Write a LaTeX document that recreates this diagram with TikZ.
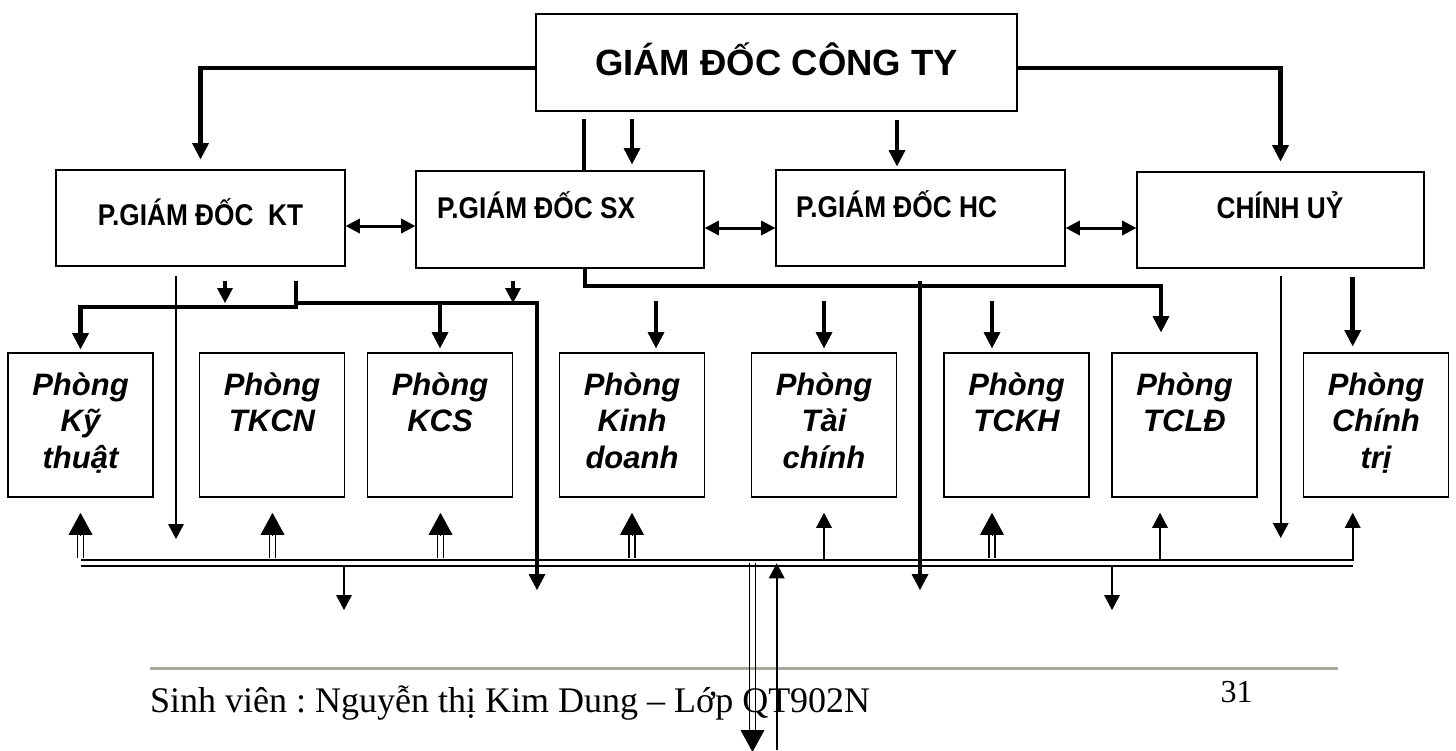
\documentclass[tikz,border=0pt]{standalone}
\usepackage{fontspec}
\setmainfont{Liberation Sans}
\newfontfamily\serifft{Liberation Serif}
\newfontfamily\narrowft{Liberation Sans}[FakeStretch=0.875]
\usetikzlibrary{arrows.meta,calc}
\definecolor{rulegray}{RGB}{168,168,160}
\frenchspacing
\tikzset{
  box/.style={draw=black, line width=1.6pt, inner sep=0pt},
  thk/.style={line width=4.5pt},
  med/.style={line width=3.8pt},
  thn/.style={line width=2.2pt},
  busln/.style={line width=2pt},
  dblln/.style={line width=1.5pt},
  arrL/.style={-{Triangle[length=16pt,width=17pt,line width=0pt]}},
  arrS/.style={-{Triangle[length=15pt,width=16pt,line width=0pt]}},
  arrBig/.style={line width=0.6pt,-{Triangle[length=22pt,width=24pt,line width=0pt]}},
  arrBi/.style={line width=3pt,{Triangle[length=14pt,width=15pt,line width=0pt]}-{Triangle[length=14pt,width=15pt,line width=0pt]}},
  ptext/.style={anchor=north, align=center, inner sep=0pt, font=\bfseries\itshape\fontsize{31}{36.5}\selectfont},
  rtext/.style={inner sep=0pt, font=\narrowft\bfseries\fontsize{30}{36}\selectfont}
}
\begin{document}
\begin{tikzpicture}[x=1pt,y=-1pt]
\useasboundingbox (0,0) rectangle (1456,750);
% boxes
\node[box, minimum width=481pt, minimum height=97pt] (gd) at (776.5,62.5) {};
\node[box, minimum width=289pt, minimum height=96pt] (kt) at (200.5,218) {};
\node[box, minimum width=288pt, minimum height=97pt] (sx) at (560,219.5) {};
\node[box, minimum width=289pt, minimum height=96pt] (hc) at (920.5,218) {};
\node[box, minimum width=287pt, minimum height=96pt] (cu) at (1280.5,220) {};
\foreach \n/\x in {p1/80.5, p2/272, p3/440, p4/632, p5/824, p6/1016.5, p7/1184.5, p8/1376}
  \node[box, minimum width=145pt, minimum height=144pt] (\n) at (\x,425) {};
% texts
\node[anchor=base, inner sep=0pt, font=\bfseries\fontsize{36.5}{44}\selectfont] (tgd) at (776.5,75) {GIÁM ĐỐC CÔNG TY};
\node[rtext, anchor=base] (tkt) at (200.5,225) {P.GIÁM ĐỐC~~KT};
\node[rtext, anchor=base west] (tsx) at (437,218) {P.GIÁM ĐỐC SX};
\node[rtext, anchor=base west] (thc) at (796,217) {P.GIÁM ĐỐC HC};
\node[rtext, anchor=base] (tcu) at (1280,218) {CHÍNH UỶ};
\node[ptext] (t1) at (80.5,369.5) {\strut Phòng\\Kỹ\\thuật};
\node[ptext] (t2) at (272,369.5) {\strut Phòng\\TKCN};
\node[ptext] (t3) at (440,369.5) {\strut Phòng\\KCS};
\node[ptext] (t4) at (632,369.5) {\strut Phòng\\Kinh\\doanh};
\node[ptext] (t5) at (824,369.5) {\strut Phòng\\Tài\\chính};
\node[ptext] (t6) at (1016.5,369.5) {\strut Phòng\\TCKH};
\node[ptext] (t7) at (1184.5,369.5) {\strut Phòng\\TCLĐ};
\node[ptext] (t8) at (1376,369.5) {\strut Phòng\\Chính\\trị};
% footer
\draw[line width=3pt, rulegray] (150,668) coordinate (r1) -- (1338,668) coordinate (r2);
\node[anchor=base west, inner sep=0pt, font=\serifft\fontsize{36}{43}\selectfont] (foot) at (150,712) {Sinh viên : Nguyễn thị Kim Dung – Lớp QT902N};
\node[anchor=base, inner sep=0pt, font=\serifft\fontsize{32}{38}\selectfont] (pg) at (1236.5,702) {31};
% free ends
\coordinate (e176) at (176,539);
\coordinate (e537) at (537,590);
\coordinate (e920) at (920,590);
\coordinate (e1281) at (1280.7,538);
\coordinate (e344) at (344,610);
\coordinate (e1112) at (1112,610);
% top connectors
\draw[thk, arrL] (gd.west |- 0,68) -| ($(kt.north)+(0,-10)$);
\draw[thk, arrL] (gd.east |- 0,68) -| ($(cu.north)+(0,-10)$);
\draw[thk] ($(gd.south -| 584,0)+(0,7)$) -- (sx.north -| 584,0);
\draw[med, arrL] ($(gd.south -| 632,0)+(0,7)$) -- ($(sx.north -| 632,0)+(0,-6)$);
\draw[med, arrL] ($(gd.south -| 897,0)+(0,8)$) -- ($(hc.north -| 897,0)+(0,-3)$);
% horizontal links
\draw[arrBi] (kt.east |- 0,226) -- (sx.west |- 0,226);
\draw[arrBi] (sx.east |- 0,228) -- (hc.west |- 0,228);
\draw[arrBi] (hc.east |- 0,228) -- (cu.west |- 0,228);
% below row 2
\draw[thn, arrS] ($(kt.south -| 176,0)+(0,9)$) -- (e176);
\draw[med, arrS] ($(kt.south -| 225,0)+(0,14)$) -- (225,303);
\draw[thk, arrL] ($(kt.south -| 296,0)+(0,14)$) -- (296,307) -- (80.5,307) -- ($(p1.north)+(0,-3)$);
\draw[thk, arrL] (296,303) -- (537,303) -- (e537);
\draw[thk, arrL] (440,303) -- ($(p3.north)+(0,-4)$);
\draw[med, arrS] ($(sx.south -| 513,0)+(0,12)$) -- (513,303);
\draw[thk, arrL] (sx.south -| 585,0) -- (585,286) -- (1161,286) -- ($(p7.north -| 1161,0)+(0,-20)$);
\draw[thk, arrL] ($(hc.south -| 920,0)+(0,14)$) -- (e920);
\draw[thk, arrL] ($(p4.north -| 656,0)+(0,-51)$) -- ($(p4.north -| 656,0)+(0,-4)$);
\draw[thk, arrL] ($(p5.north)+(0,-51)$) -- ($(p5.north)+(0,-4)$);
\draw[thk, arrL] ($(p6.north -| 992,0)+(0,-51)$) -- ($(p6.north -| 992,0)+(0,-4)$);
\draw[thn, arrS] ($(cu.south -| 1280.7,0)+(0,7)$) -- (e1281);
\draw[thk, arrL] ($(cu.south -| 1352.7,0)+(0,8)$) -- ($(p8.north -| 1352.7,0)+(0,-6)$);
% bus
\draw[busln, arrS] (80.5,560) -- (1352.7,560) -- ($(p8.south -| 1352.7,0)+(0,15)$);
\draw[busln] (80.5,565.5) -- (1352.7,565.5);
\foreach \x/\n in {80.5/p1, 272.5/p2, 440.5/p3, 632/p4, 992/p6} {
  \draw[dblln] (\x-2.8,558) -- (\x-2.8,534) (\x+2.8,558) -- (\x+2.8,534);
  \draw[arrBig] (\x,535) -- ($(\n.south -| \x,0)+(0,15)$);
}
\draw[thn, arrS] (824,560) -- ($(p5.south)+(0,15)$);
\draw[thn, arrS] (1160,560) -- ($(p7.south -| 1160,0)+(0,15)$);
\draw[thn, arrS] (344,565.5) -- (e344);
\draw[thn, arrS] (1112,565.5) -- (e1112);
% central
\coordinate (c1) at (752.5,752);
\coordinate (c2) at (776.7,750);
\draw[dblln] (749.5,563) -- (749.5,733) (755.5,563) -- (755.5,733);
\draw[arrBig] (752.5,731) -- (c1);
\draw[thn, arrS] (c2) -- (776.7,563.3);
\end{tikzpicture}
\end{document}
